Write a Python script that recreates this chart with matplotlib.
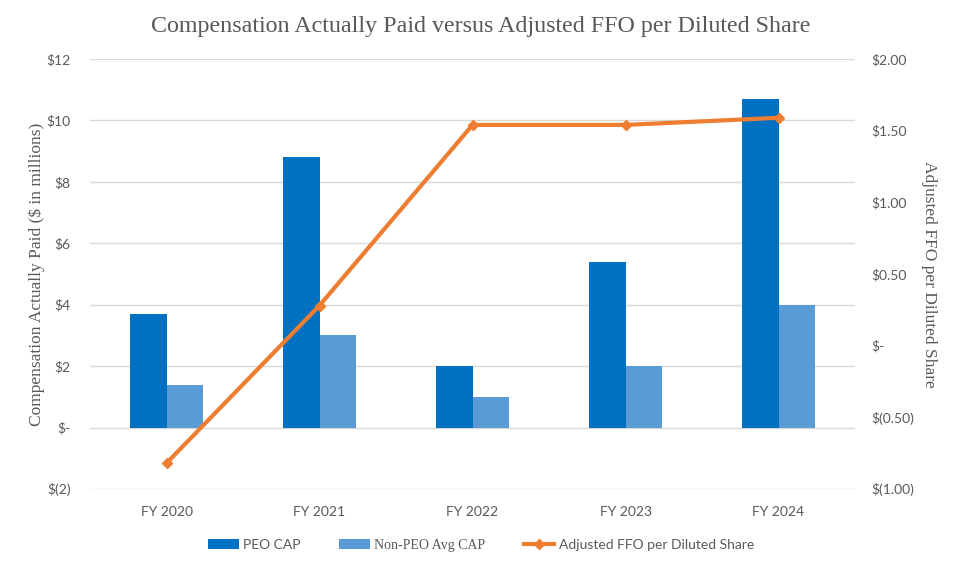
import matplotlib.pyplot as plt
import numpy as np
from matplotlib.ticker import FuncFormatter

years = ["FY 2020", "FY 2021", "FY 2022", "FY 2023", "FY 2024"]
peo_cap = [3.7, 8.8, 2.0, 5.4, 10.7]
non_peo_cap = [1.4, 3.0, 1.0, 2.0, 4.0]
ffo = [-0.82, 0.28, 1.54, 1.54, 1.59]

SANS = "Lato"
SERIF = "Liberation Serif"
GRAY = "#595959"


def left_fmt(v, pos):
    if abs(v) < 1e-9:
        return "$-"
    if v < 0:
        return "$(%d)" % abs(v)
    return "$%d" % v


def right_fmt(v, pos):
    if abs(v) < 1e-9:
        return "$-"
    if v < 0:
        return "$(%.2f)" % abs(v)
    return "$%.2f" % v


fig = plt.figure(figsize=(9.62, 5.62), dpi=100)
ax = fig.add_axes([0.0936, 0.13, 0.7952, 0.765])
ax2 = ax.twinx()

x = np.arange(len(years))
w = 0.24
b1 = ax.bar(x - w / 2, peo_cap, w, color="#0070C0", label="PEO CAP", zorder=3)
b2 = ax.bar(x + w / 2, non_peo_cap, w, color="#5B9BD5", label="Non-PEO Avg CAP", zorder=3)
ln, = ax2.plot(x, ffo, color="#ED7D31", lw=3, marker="D", ms=5,
               label="Adjusted FFO per Diluted Share", zorder=4)

ax.set_xlim(-0.5, len(years) - 0.5)
ax.set_ylim(-2, 12)
ax.set_yticks(range(-2, 13, 2))
ax.yaxis.set_major_formatter(FuncFormatter(left_fmt))
ax2.set_ylim(-1, 2)
ax2.set_yticks(np.arange(-1, 2.01, 0.5))
ax2.yaxis.set_major_formatter(FuncFormatter(right_fmt))

ax.grid(axis="y", color="#d9d9d9", lw=1, zorder=0)
for a in (ax, ax2):
    for s in a.spines.values():
        s.set_visible(False)
    a.tick_params(length=0, colors=GRAY, labelsize=10)
    for t in a.get_yticklabels():
        t.set_fontfamily(SANS)
ax.set_xticks(x)
ax.set_xticklabels(years, fontfamily=SANS)
ax.tick_params(axis="x", pad=12)
ax.tick_params(axis="y", pad=14)
ax2.tick_params(axis="y", pad=12)

ax.set_ylabel("Compensation Actually Paid ($ in millions)", fontfamily=SERIF,
              fontsize=12.5, color=GRAY, labelpad=1)
ax2.set_ylabel("Adjusted FFO per Diluted Share", fontfamily=SERIF,
               fontsize=12.5, color=GRAY, rotation=270, labelpad=16)

fig.text(0.5, 0.953, "Compensation Actually Paid versus Adjusted FFO per Diluted Share",
         ha="center", va="center", fontfamily=SERIF, fontsize=17.3, color=GRAY)

leg = fig.legend(handles=[b1, b2, ln], loc="center", bbox_to_anchor=(0.5, 0.03),
                 ncol=3, frameon=False, fontsize=10, handlelength=2.2,
                 columnspacing=2.8, handletextpad=0.3)
for t, fam in zip(leg.get_texts(), [SANS, SERIF, SANS]):
    t.set_fontfamily(fam)
    t.set_color(GRAY)

fig.savefig("out.png", dpi=100)
